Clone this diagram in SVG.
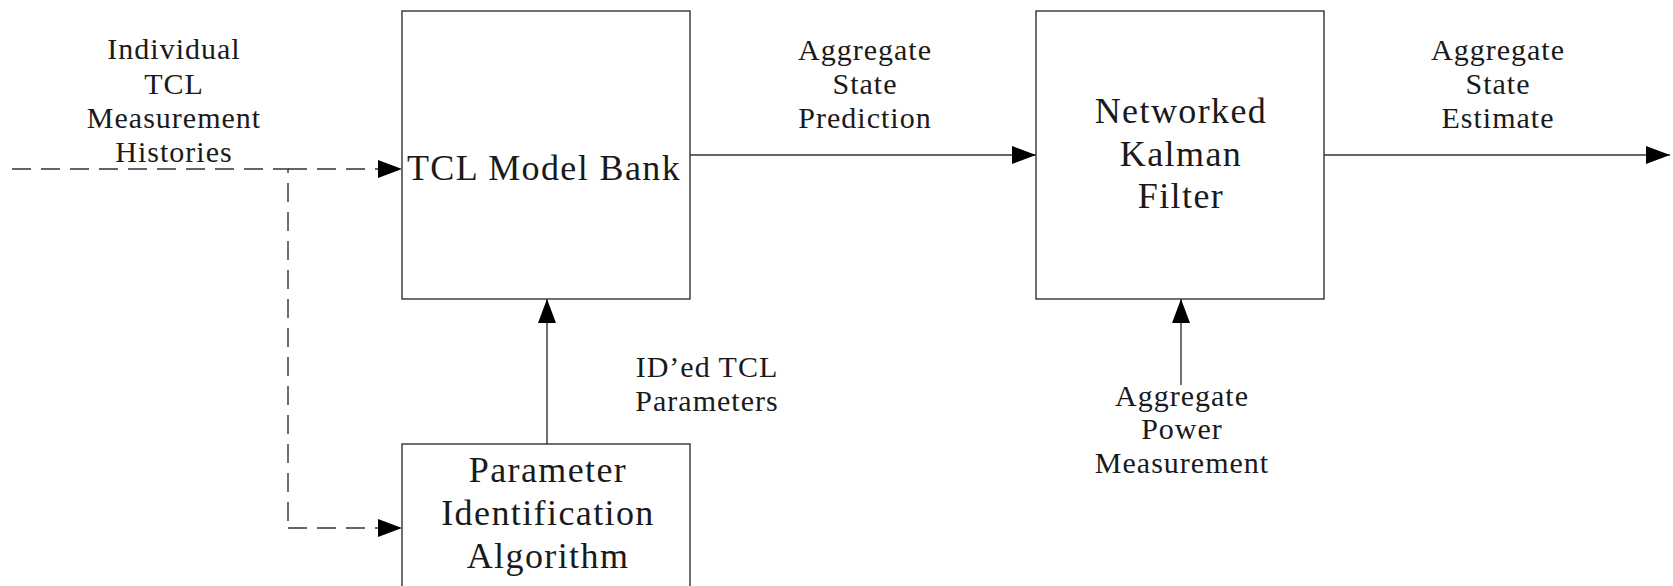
<svg xmlns="http://www.w3.org/2000/svg" width="1673" height="586" viewBox="0 0 1673 586">
<style>
.box{fill:#fff;stroke:#333;stroke-width:1.4}
.ln{fill:none;stroke:#333;stroke-width:1.4}
.dash{stroke-dasharray:19,10}
.lbl{font-family:"Liberation Serif","Times New Roman",serif;font-size:30px;letter-spacing:1px;fill:#1a1a1a;text-anchor:middle}
.big{font-family:"Liberation Serif","Times New Roman",serif;font-size:36px;letter-spacing:1.4px;fill:#1a1a1a;text-anchor:middle}
</style>
<defs>
<marker id="ah" markerUnits="userSpaceOnUse" markerWidth="24" markerHeight="18" refX="24" refY="9" orient="auto">
<path d="M0,0 L24,9 L0,18 Z" fill="#000"/>
</marker>
</defs>
<rect width="1673" height="586" fill="#fff"/>
<g id="connectors">
<path class="ln dash" d="M12,169 H288 V528" />
<path class="ln dash" d="M288,169 H402" marker-end="url(#ah)"/>
<path class="ln dash" d="M288,528 H402" marker-end="url(#ah)"/>
<path class="ln" d="M690,155 H1036" marker-end="url(#ah)"/>
<path class="ln" d="M1324,155 H1670" marker-end="url(#ah)"/>
<path class="ln" d="M547,444 V299" marker-end="url(#ah)"/>
<path class="ln" d="M1181,385 V299" marker-end="url(#ah)"/>
</g>
<g id="tcl-model-bank">
<rect class="box" x="402" y="11" width="288" height="288"/>
<text class="big" x="544" y="180">TCL Model Bank</text>
</g>
<g id="kalman-filter">
<rect class="box" x="1036" y="11" width="288" height="288"/>
<text class="big" x="1181" y="123">Networked</text>
<text class="big" x="1181" y="166">Kalman</text>
<text class="big" x="1181" y="208">Filter</text>
</g>
<g id="param-id">
<rect class="box" x="402" y="444" width="288" height="170"/>
<text class="big" x="548" y="482">Parameter</text>
<text class="big" x="548" y="525">Identification</text>
<text class="big" x="548" y="568">Algorithm</text>
</g>
<g id="labels">
<text class="lbl" x="174" y="59">Individual</text>
<text class="lbl" x="174" y="94">TCL</text>
<text class="lbl" x="174" y="128">Measurement</text>
<text class="lbl" x="174" y="162">Histories</text>
<text class="lbl" x="865" y="60">Aggregate</text>
<text class="lbl" x="865" y="94">State</text>
<text class="lbl" x="865" y="128">Prediction</text>
<text class="lbl" x="1498" y="60">Aggregate</text>
<text class="lbl" x="1498" y="94">State</text>
<text class="lbl" x="1498" y="128">Estimate</text>
<text class="lbl" x="707" y="377">ID’ed TCL</text>
<text class="lbl" x="707" y="411">Parameters</text>
<text class="lbl" x="1182" y="406">Aggregate</text>
<text class="lbl" x="1182" y="439">Power</text>
<text class="lbl" x="1182" y="473">Measurement</text>
</g>
</svg>
